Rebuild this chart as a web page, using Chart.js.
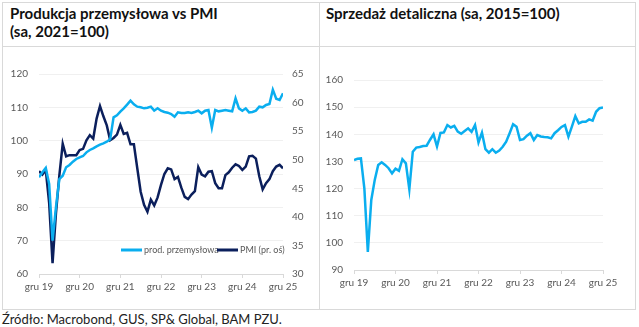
<!DOCTYPE html>
<html>
<head>
<meta charset="utf-8">
<script src="https://cdn.jsdelivr.net/npm/chart.js@4"></script>
<style>
  html, body { margin: 0; padding: 0; background: #fff; }
  body { width: 639px; height: 327px; position: relative; overflow: hidden; font-family: Lato, "Liberation Sans", sans-serif; }
  .frame { position: absolute; left: 2px; top: 2px; width: 634px; height: 308px; border: 1px solid #d9d9d9; box-sizing: border-box; }
  .hline { position: absolute; left: 2px; top: 46px; width: 634px; height: 1px; background: #d9d9d9; }
  .vline { position: absolute; left: 319px; top: 2px; width: 1px; height: 308px; background: #d9d9d9; }
  .title { position: absolute; top: 4px; font-weight: bold; font-size: 15px; line-height: 18px; color: #111; }
  .box { position: absolute; top: 47px; height: 262px; }
  .source { position: absolute; left: 2px; top: 311px; font-size: 13px; color: #222; }
</style>
</head>
<body>
<div class="frame"></div>
<div class="hline"></div>
<div class="vline"></div>
<div class="title" style="left:10px">Produkcja przemysłowa vs PMI<br>(sa, 2021=100)</div>
<div class="title" style="left:326px">Sprzedaż detaliczna (sa, 2015=100)</div>
<div class="box" style="left:4px;width:314px"><canvas id="chart-ip"></canvas></div>
<div class="box" style="left:320px;width:316px"><canvas id="chart-retail"></canvas></div>
<div class="source">Źródło: Macrobond, GUS, SP&amp; Global, BAM PZU.</div>

<script>
// Monthly data, gru 19 .. gru 25
const xTicks = ["gru 19", "gru 20", "gru 21", "gru 22", "gru 23", "gru 24", "gru 25"];

const prodPrzem = [
  89.0, 90.5, 91.8, 87.0, 70.0, 80.0, 88.5, 89.5, 92.0, 92.7, 93.7, 94.5,
  95.0, 95.4, 96.5, 97.2, 97.7, 98.3, 98.8, 99.2, 99.7, 100.4, 107.0, 107.6,
  108.7, 109.7, 110.8, 112.0, 110.9, 110.2, 110.0, 109.7, 109.9, 110.2, 109.0, 109.7,
  109.0, 108.6, 108.4, 108.0, 107.2, 108.5, 108.3, 108.3, 108.5, 108.3, 108.6, 109.0,
  108.2, 109.0, 109.2, 103.9, 109.2, 108.8, 109.0, 109.2, 109.0, 108.8, 112.7, 109.7,
  109.0, 109.7, 108.5, 108.6, 109.0, 110.2, 110.0, 110.7, 111.0, 115.3, 112.6, 112.2,
  114.2
];

const pmi = [
  48.0, 47.4, 48.2, 42.4, 31.9, 40.6, 47.2, 52.8, 50.6, 50.8, 50.8, 50.8,
  51.7, 51.9, 53.4, 54.3, 53.7, 57.2, 59.4, 57.6, 56.0, 53.4, 53.8, 54.4,
  56.1, 54.5, 54.7, 52.7, 52.7, 48.5, 44.4, 42.1, 40.9, 43.0, 42.0, 43.4,
  45.6, 47.5, 48.5, 48.3, 46.6, 47.0, 45.1, 43.5, 43.1, 43.9, 44.5, 48.7,
  47.4, 47.1, 47.9, 48.0, 45.9, 45.0, 45.0, 47.3, 47.8, 48.6, 49.2, 48.9,
  48.2, 48.8, 50.6, 50.7, 50.2, 47.1, 44.8, 45.9, 46.6, 48.0, 48.8, 49.1,
  48.5
];

const sprzedaz = [
  130.5, 131.0, 131.1, 120.0, 96.7, 115.8, 123.2, 128.7, 129.7, 128.7, 127.5, 125.6,
  127.3, 126.5, 130.8, 129.3, 119.7, 133.6, 135.1, 135.3, 135.7, 135.8, 138.0, 140.0,
  135.5, 140.5, 140.7, 143.4, 142.5, 143.1, 141.0, 140.2, 141.2, 142.2, 140.9, 143.4,
  137.0, 140.6, 134.5, 133.2, 134.5, 133.2, 134.0, 135.4, 137.3, 140.4, 143.7, 142.8,
  137.9, 138.2, 139.5, 140.4, 137.9, 139.7, 139.2, 139.0, 138.9, 138.5, 140.4, 141.5,
  142.7, 143.4, 139.1, 142.8, 146.7, 144.0, 144.6, 144.6, 145.5, 145.0, 148.3, 149.6,
  149.9
];

const LIGHT = "#0aaeef";
const DARK = "#0b1f5c";
const TICK_COLOR = "#595959";
const tickFont = { family: "Lato", size: 10 };

const toXY = arr => arr.map((v, i) => ({ x: i, y: v }));

function xScale() {
  return {
    type: "linear", min: 0, max: 72,
    ticks: { stepSize: 12, autoSkip: false, maxRotation: 0, padding: 3, color: TICK_COLOR, font: tickFont,
             callback: v => xTicks[v / 12] },
    grid: { drawOnChartArea: false, drawTicks: true, tickLength: 4, color: "#d9d9d9" },
    border: { display: true, color: "#d9d9d9" },
    afterFit: s => { s.height = 20; },
  };
}

// simple legend drawn inside the plot, like the original
const inlineLegend = {
  id: "inlineLegend",
  afterDraw(chart) {
    const ctx = chart.ctx;
    const y = 203;
    const items = [
      { x: 117, color: LIGHT, text: "prod. przemysłowa" },
      { x: 213, color: DARK, text: "PMI (pr. oś)" },
    ];
    ctx.save();
    ctx.font = "9px Lato";
    ctx.textBaseline = "middle";
    items.forEach(it => {
      ctx.strokeStyle = it.color;
      ctx.lineWidth = 3;
      ctx.beginPath();
      ctx.moveTo(it.x, y);
      ctx.lineTo(it.x + 21, y);
      ctx.stroke();
      ctx.fillStyle = TICK_COLOR;
      ctx.fillText(it.text, it.x + 23, y);
    });
    ctx.restore();
  }
};

new Chart(document.getElementById("chart-ip"), {
  type: "line",
  data: {
    datasets: [
      { label: "prod. przemysłowa", data: toXY(prodPrzem), yAxisID: "y", borderColor: LIGHT, borderWidth: 2.5, pointRadius: 0, tension: 0 },
      { label: "PMI (pr. oś)", data: toXY(pmi), yAxisID: "y1", borderColor: DARK, borderWidth: 2.5, pointRadius: 0, tension: 0 },
    ],
  },
  options: {
    responsive: true, maintainAspectRatio: false, animation: false,
    layout: { padding: { top: 27, bottom: 15, left: 0, right: 0 } },
    plugins: { legend: { display: false }, tooltip: { enabled: false } },
    scales: {
      x: xScale(),
      y: {
        position: "left", min: 60, max: 120,
        ticks: { stepSize: 10, padding: 11, color: TICK_COLOR, font: tickFont },
        grid: { color: "#f0f0f0", drawTicks: false },
        border: { display: false },
        afterFit: s => { s.width = 35; },
      },
      y1: {
        position: "right", min: 30, max: 65,
        ticks: { stepSize: 5, padding: 9, color: TICK_COLOR, font: tickFont },
        grid: { drawOnChartArea: false, drawTicks: false },
        border: { display: false },
        afterFit: s => { s.width = 35; },
      },
    },
  },
  plugins: [inlineLegend],
});

new Chart(document.getElementById("chart-retail"), {
  type: "line",
  data: {
    datasets: [
      { label: "Sprzedaż detaliczna", data: toXY(sprzedaz), borderColor: LIGHT, borderWidth: 2.5, pointRadius: 0, tension: 0 },
    ],
  },
  options: {
    responsive: true, maintainAspectRatio: false, animation: false,
    layout: { padding: { top: 33, bottom: 19, left: 0, right: 33 } },
    plugins: { legend: { display: false }, tooltip: { enabled: false } },
    scales: {
      x: xScale(),
      y: {
        position: "left", min: 90, max: 160,
        ticks: { stepSize: 10, padding: 11, color: TICK_COLOR, font: tickFont },
        grid: { color: "#f0f0f0", drawTicks: false },
        border: { display: false },
        afterFit: s => { s.width = 34; },
      },
    },
  },
});
</script>
</body>
</html>
